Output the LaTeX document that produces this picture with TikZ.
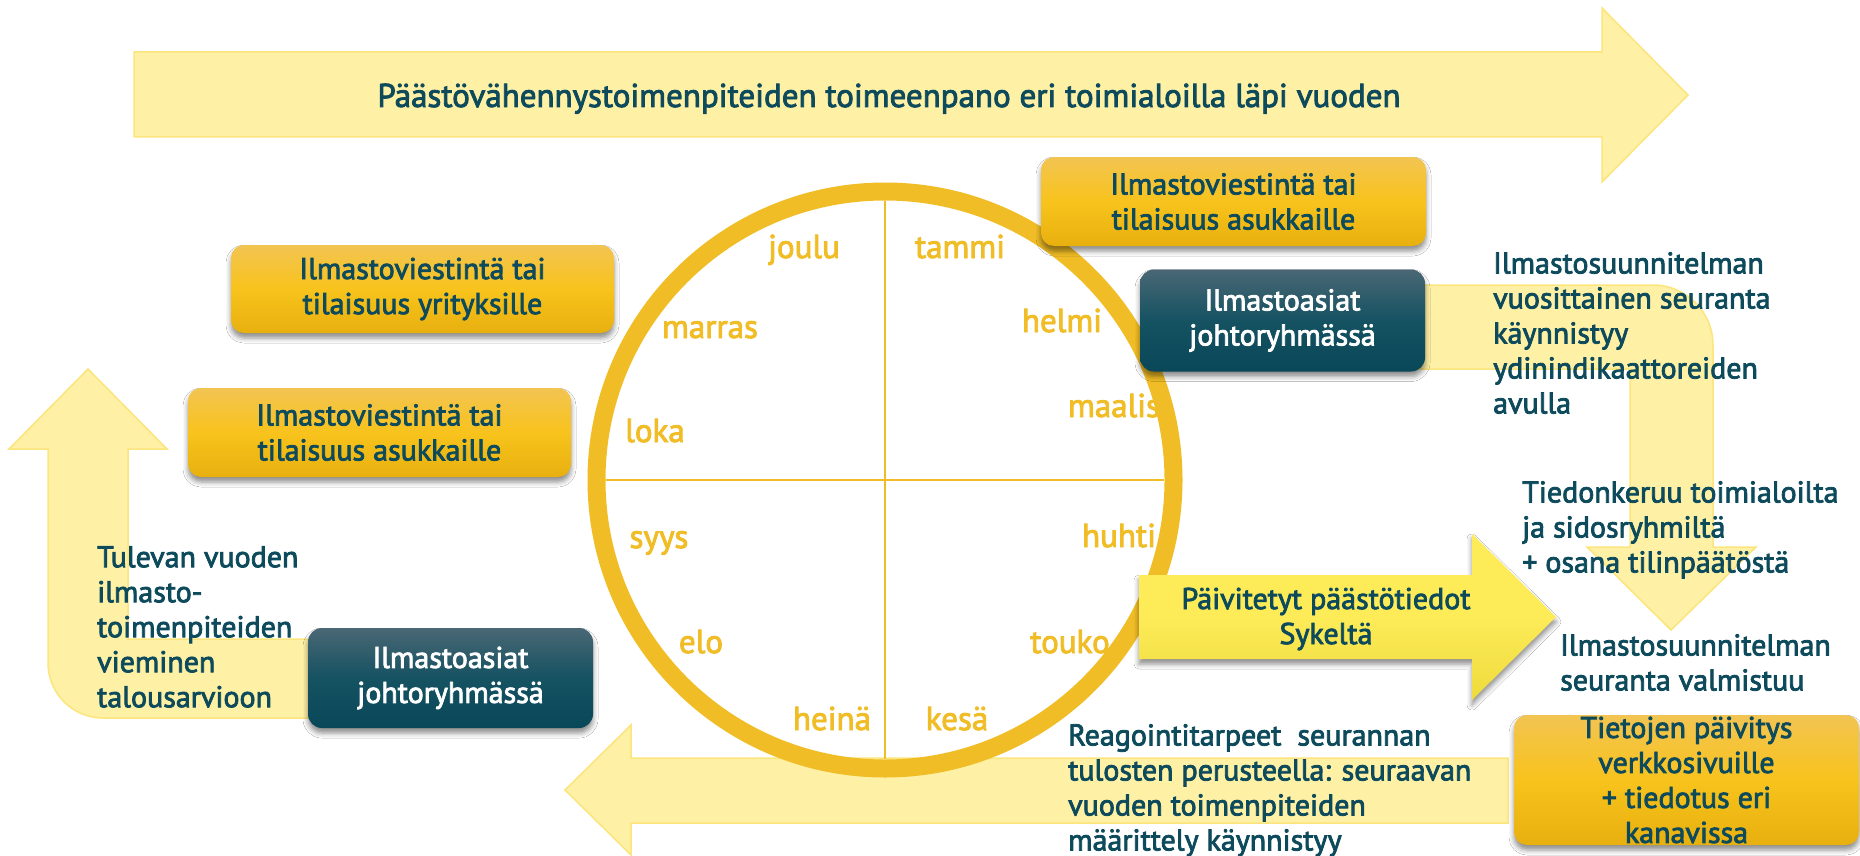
\documentclass[tikz,border=0pt]{standalone}
\usepackage{fontspec}
\setmainfont{PT Sans}[FakeBold=2.6]
\usetikzlibrary{shadows.blur}
\definecolor{txtc}{HTML}{0D4A5B}
\definecolor{ringc}{HTML}{F0BD26}
\definecolor{lightfill}{HTML}{FEF0A5}
\definecolor{lightedge}{HTML}{FCE57C}
\definecolor{goldtop}{HTML}{F2C452}
\definecolor{goldmid}{HTML}{F8C31C}
\definecolor{goldbot}{HTML}{E8B00F}
\definecolor{darktop}{HTML}{4A6774}
\definecolor{darkmid}{HTML}{155262}
\definecolor{darkbot}{HTML}{094859}
\definecolor{yeltop}{HTML}{FDEB58}
\definecolor{yelbot}{HTML}{EEDB3C}
\newcommand\mainfs{\fontsize{30}{35}\selectfont}
\newcommand\bigfs{\fontsize{33}{38}\selectfont}
\newcommand\monthfs{\fontsize{33}{38}\selectfont}
\begin{document}
\begin{tikzpicture}[x=1pt,y=-1pt,
  lightarrow/.style={fill=lightfill, draw=lightedge, line width=1.5pt},
  boxshadow/.style={blur shadow={shadow xshift=0pt, shadow yshift=-5pt, shadow blur radius=5pt, shadow opacity=45}},
  goldbox/.style={rounded corners=13pt, top color=goldtop, bottom color=goldbot, middle color=goldmid, text=txtc, align=center, font=\mainfs, inner sep=0pt, boxshadow},
  darkbox/.style={rounded corners=14pt, top color=darktop, bottom color=darkbot, middle color=darkmid, text=white, align=center, font=\mainfs, inner sep=0pt, boxshadow},
  yelarrow/.style={top color=yeltop, bottom color=yelbot, middle color=yeltop, boxshadow},
  month/.style={text=ringc, font=\monthfs, inner sep=0pt, anchor=base},
  txt/.style={text=txtc, font=\mainfs, inner sep=0pt},
  freetxt/.style={txt, align=left, anchor=north west}]
\useasboundingbox[fill=white] (0,0) rectangle (1860,856);

% light background arrows
\path[lightarrow] (134,52) -- (1602,52) -- (1602,8) -- (1688,95) -- (1602,182) -- (1602,137) -- (134,137) -- cycle;
\path[lightarrow] (1300,285) -- (1653,285) .. controls (1686.1,285) and (1713,311.9) .. (1713,345) -- (1713,547) -- (1756,547) -- (1671,630) -- (1587,547) -- (1630,547) -- (1630,369) -- (1300,369) -- cycle;
\path[lightarrow] (400,639) -- (128,639) -- (128,449) -- (167,449) -- (88,369) -- (9,449) -- (48,449) -- (48,663) .. controls (48,693.4) and (72.6,718) .. (103,718) -- (400,718) -- cycle;
\path[lightarrow] (1508,758) -- (631,758) -- (631,725) -- (565,790) -- (631,855) -- (631,823) -- (1508,823) -- cycle;

\node[txt, font=\bigfs, anchor=base] (toptext) at (889,107) {Päästövähennystoimenpiteiden toimeenpano eri toimialoilla läpi vuoden};

% year wheel
\coordinate (c) at (885,480);
\draw[ringc, line width=2.5pt] (885,201) -- (885,759);
\draw[ringc, line width=2.5pt] (606,480) -- (1164,480);
\draw[ringc, line width=18pt] (c) circle[radius=288.5pt];

\node[month] (m12) at (804,258) {joulu};
\node[month] (m1) at (960,258) {tammi};
\node[month] (m11) at (710,338) {marras};
\node[month] (m2) at (1062,332) {helmi};
\node[month] (m10) at (655,442) {loka};
\node[month] (m3) at (1114,417) {maalis};
\node[month] (m9) at (659,548) {syys};
\node[month] (m4) at (1119,547) {huhti};
\node[month] (m8) at (701,653) {elo};
\node[month] (m5) at (1070,653) {touko};
\node[month] (m7) at (832,730) {heinä};
\node[month] (m6) at (957,730) {kesä};

% boxes
\node[goldbox, minimum width=385pt, minimum height=89pt] (ba) at (1233.5,201.5) {Ilmastoviestintä tai\\tilaisuus asukkaille};
\node[goldbox, minimum width=383pt, minimum height=88pt] (bb) at (422.5,289) {Ilmastoviestintä tai\\tilaisuus yrityksille};
\node[goldbox, minimum width=383pt, minimum height=89pt] (bc) at (379.5,432.5) {Ilmastoviestintä tai\\tilaisuus asukkaille};
\node[darkbox, minimum width=285pt, minimum height=102pt] (bd) at (1282.5,320.5) {Ilmastoasiat\\johtoryhmässä};
\node[darkbox, minimum width=285pt, minimum height=100pt] (be) at (450.5,678) {Ilmastoasiat\\johtoryhmässä};
\node[goldbox, minimum width=345pt, minimum height=130pt] (bf) at (1686.5,780) {Tietojen päivitys\\verkkosivuille\\+ tiedotus eri\\kanavissa};

% updated data arrow
\path[yelarrow] (1139,575) -- (1472,575) -- (1472,534) -- (1556,617) -- (1472,700) -- (1472,659) -- (1139,659) -- cycle;
\node[txt, align=center] (upd) at (1326,619) {Päivitetyt päästötiedot\\Sykeltä};

% free texts
\node[freetxt] (t1) at (1493,252) {Ilmastosuunnitelman\\vuosittainen seuranta\\käynnistyy\\ydinindikaattoreiden\\avulla};
\node[freetxt] (t2) at (1522,481) {Tiedonkeruu toimialoilta\\ja sidosryhmiltä\\+ osana tilinpäätöstä};
\node[freetxt] (t3) at (1560,634) {Ilmastosuunnitelman\\seuranta valmistuu};
\node[freetxt] (t4) at (1068,724) {Reagointitarpeet~ seurannan\\tulosten perusteella: seuraavan\\vuoden toimenpiteiden\\määrittely käynnistyy};
\node[freetxt] (t5) at (97,546) {Tulevan vuoden\\ilmasto-\\toimenpiteiden\\vieminen\\talousarvioon};
\end{tikzpicture}
\end{document}
